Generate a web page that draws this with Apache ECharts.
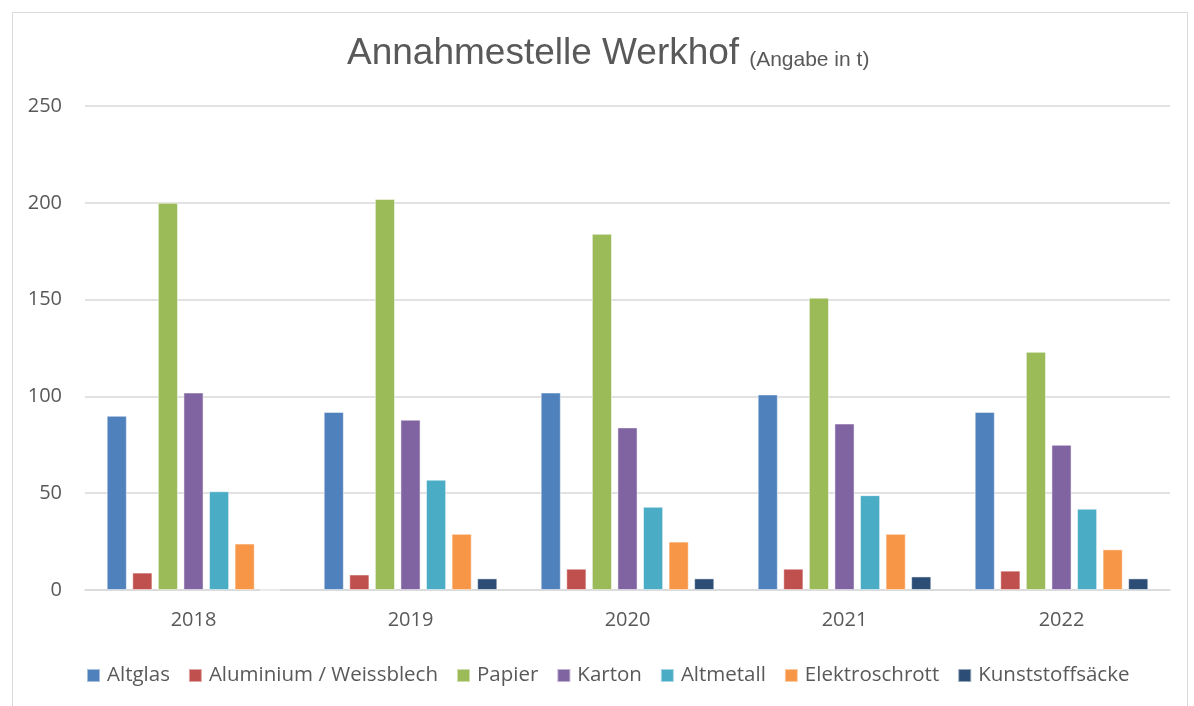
<!DOCTYPE html>
<html>
<head>
<meta charset="utf-8">
<script src="https://cdn.jsdelivr.net/npm/echarts@6/dist/echarts.min.js"></script>
<style>html,body{margin:0;padding:0;background:#fff}#c{width:1194px;height:706px}</style>
</head>
<body>
<div id="c"></div>
<script>
const categories = ['2018', '2019', '2020', '2021', '2022'];
const seriesNames = ['Altglas', 'Aluminium / Weissblech', 'Papier', 'Karton', 'Altmetall', 'Elektroschrott', 'Kunststoffsäcke'];
const altglas = [90, 92, 102, 101, 92];
const aluminium = [9, 8, 11, 11, 10];
const papier = [200, 202, 184, 151, 123];
const karton = [102, 88, 84, 86, 75];
const altmetall = [51, 57, 43, 49, 42];
const elektroschrott = [24, 29, 25, 29, 21];
const kunststoffsaecke = [0, 6, 6, 7, 6];
const yTicks = [0, 50, 100, 150, 200, 250];
const colors = ['#4F81BD', '#C0504D', '#9BBB59', '#8064A2', '#4BACC6', '#F79646', '#2C4D75'];
const values = [altglas, aluminium, papier, karton, altmetall, elektroschrott, kunststoffsaecke];

const chart = echarts.init(document.getElementById('c'), null, {renderer: 'canvas'});
const labelFont = '"Open Sans", sans-serif';
chart.setOption({
  animation: false,
  backgroundColor: '#fff',
  color: colors,
  graphic: [{
    type: 'rect', left: 10, top: 10,
    shape: {width: 1175, height: 720},
    style: {fill: 'none', stroke: '#d9d9d9', lineWidth: 1}, silent: true, z: -1
  }],
  title: {
    text: '{a|Annahmestelle Werkhof}  {b|(Angabe in t)}',
    left: 342, top: 30,
    textStyle: {
      fontWeight: 'normal',
      rich: {
        a: {fontFamily: '"Liberation Sans", Arial, sans-serif', fontSize: 37, fontWeight: 'normal', color: '#595959'},
        b: {fontFamily: '"Liberation Sans", Arial, sans-serif', fontSize: 21, fontWeight: 'normal', color: '#595959', verticalAlign: 'bottom', padding: [0, 0, 1, 0]}
      }
    }
  },
  legend: {
    data: seriesNames, top: 660, left: 81,
    icon: 'rect', itemWidth: 13, itemHeight: 13, itemGap: 18,
    textStyle: {fontFamily: labelFont, fontSize: 20.5, color: '#595959', padding: [0, 0, 0, 2]}
  },
  grid: {left: 85, right: 24, top: 106, bottom: 116, containLabel: false},
  xAxis: {
    type: 'category', data: categories,
    axisLine: {lineStyle: {color: '#d9d9d9', width: 1.5}},
    axisTick: {show: false},
    axisLabel: {fontFamily: labelFont, fontSize: 20, color: '#595959', margin: 20}
  },
  yAxis: {
    type: 'value', min: yTicks[0], max: yTicks[yTicks.length - 1], interval: 50,
    axisLine: {show: false}, axisTick: {show: false},
    splitLine: {lineStyle: {color: '#d9d9d9', width: 1.5}},
    axisLabel: {fontFamily: labelFont, fontSize: 20, color: '#595959', margin: 23}
  },
  series: seriesNames.map((n, i) => ({
    name: n, type: 'bar', data: values[i],
    barGap: '27%', barCategoryGap: '20%',
    itemStyle: {color: colors[i], borderColor: 'rgba(255,255,255,0.5)', borderWidth: 1}
  }))
});
</script>
</body>
</html>
